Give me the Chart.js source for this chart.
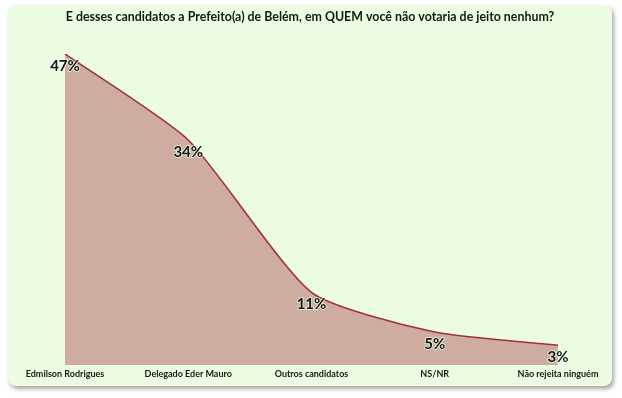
<!DOCTYPE html>
<html>
<head>
<meta charset="utf-8">
<script src="https://cdn.jsdelivr.net/npm/chart.js@4/dist/chart.umd.min.js"></script>
<style>
  html, body { margin: 0; padding: 0; background: #ffffff; }
  body { width: 622px; height: 398px; position: relative; overflow: hidden; }
  #panel {
    position: absolute; left: 8px; top: 5px; width: 604px; height: 381px;
    background: #ecfce2; border-radius: 8px;
    box-shadow: 2px 3px 4px rgba(0,0,0,0.35);
  }
  #chart { display: block; }
</style>
</head>
<body>
<div id="panel"><canvas id="chart" width="604" height="381"></canvas></div>
<script>
'use strict';

// ── Data ───────────────────────────────────────────────────────────────────────

const categories = ['Edmilson Rodrigues', 'Delegado Eder Mauro', 'Outros candidatos', 'NS/NR', 'Não rejeita ninguém'];
const values = [47, 34, 11, 5, 3];
const titleText = 'E desses candidatos a Prefeito(a) de Belém, em QUEM você não votaria de jeito nenhum?';

const FONT = "Lato, 'Open Sans', sans-serif";

// ── Point labels ──────────────────────────────────────────────────────────────

const pointLabels = {
  id: 'pointLabels',
  afterDatasetsDraw(chart) {
    const { ctx } = chart;
    const meta = chart.getDatasetMeta(0);
    ctx.save();
    ctx.font = `bold 15px ${FONT}`;
    ctx.textAlign = 'center';
    ctx.textBaseline = 'middle';
    ctx.lineJoin = 'round';
    meta.data.forEach((pt, i) => {
      const txt = values[i] + '%';
      ctx.lineWidth = 2;
      ctx.strokeStyle = 'rgba(255,255,255,0.6)';
      ctx.strokeText(txt, pt.x, pt.y + 12);
      ctx.fillStyle = '#0a1f0d';
      ctx.fillText(txt, pt.x, pt.y + 12);
    });
    ctx.restore();
  },
};

// ── Chart ─────────────────────────────────────────────────────────────────────

new Chart(document.getElementById('chart'), {
  type: 'line',
  data: {
    labels: categories,
    datasets: [{
      data: values,
      borderColor: '#a3313b',
      backgroundColor: '#cfaca0',
      borderWidth: 1.6,
      tension: 0.2,
      pointRadius: 0,
      fill: 'origin',
    }],
  },
  options: {
    responsive: false,
    animation: false,
    layout: { padding: { left: 0, right: 0, top: 0, bottom: 4 } },
    plugins: {
      legend: { display: false },
      tooltip: { enabled: false },
      title: {
        display: true,
        text: titleText,
        color: '#0a1f0d',
        font: { family: FONT, size: 12.4, weight: 'bold' },
        padding: { top: 5, bottom: 29 },
      },
    },
    scales: {
      x: {
        offset: false,
        grid: { display: false, drawTicks: false },
        border: { display: false },
        ticks: {
          autoSkip: false, maxRotation: 0, padding: 3,
          color: '#0a1f0d',
          font: { family: FONT, size: 9, weight: 'bold' },
        },
        afterFit(axis) { axis.paddingLeft = 57; axis.paddingRight = 54; },
      },
      y: { display: false, min: 0, max: 47 },
    },
  },
  plugins: [pointLabels],
});
</script>
</body>
</html>
